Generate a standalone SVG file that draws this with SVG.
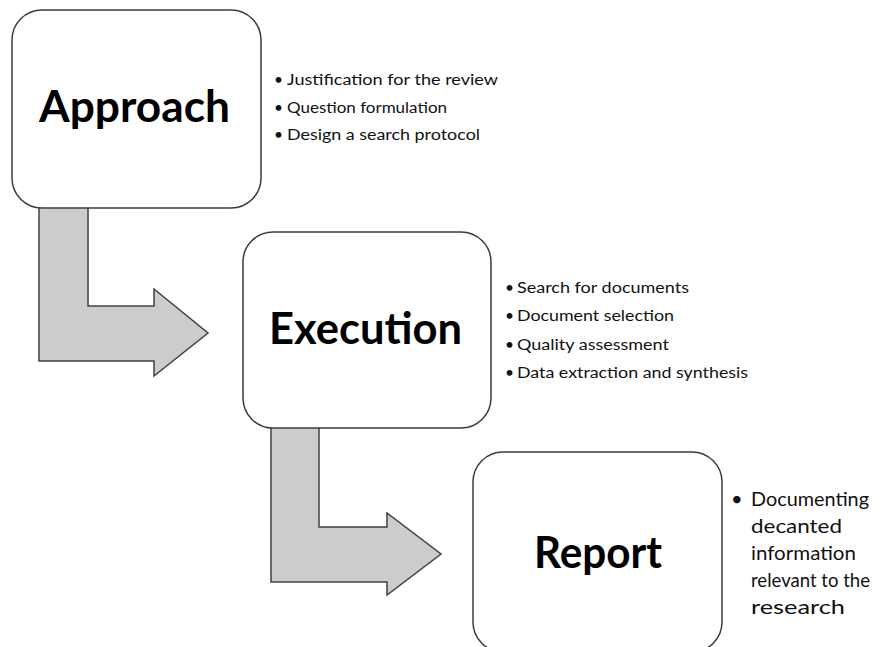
<svg xmlns="http://www.w3.org/2000/svg" width="886" height="647" viewBox="0 0 886 647">
<style>
.box{fill:#fff;stroke:#3c3c3c;stroke-width:1.5}
.arrow{fill:#cccccc;stroke:#404040;stroke-width:1.5;stroke-linejoin:miter}
.head{font-family:Lato,"Open Sans","Liberation Sans",sans-serif;font-weight:bold;font-size:43px;fill:#000}
.item{font-family:Lato,"Open Sans","Liberation Sans",sans-serif;font-size:15.5px;fill:#111}
.itemL{font-family:Lato,"Open Sans","Liberation Sans",sans-serif;font-size:20px;fill:#111}
</style>
<rect width="886" height="647" fill="#fff"/>
<g id="connectors">
<polygon class="arrow" points="39,200 88,200 88,306 154,306 154,289 208,333 154,376 154,361 39,361"/>
<polygon class="arrow" points="271,420 319,420 319,527 387,527 387,513 441,554 387,595 387,582 271,582"/>
</g>
<g id="approach">
<rect class="box" x="12" y="10" width="249" height="198" rx="30"/>
<text class="head" x="134.5" y="122" text-anchor="middle" textLength="191" lengthAdjust="spacingAndGlyphs">Approach</text>
<text class="item" x="274" y="85">•</text>
<text class="item" x="287" y="85" textLength="211" lengthAdjust="spacingAndGlyphs">Justification for the review</text>
<text class="item" x="274" y="113">•</text>
<text class="item" x="287" y="113" textLength="160" lengthAdjust="spacingAndGlyphs">Question formulation</text>
<text class="item" x="274" y="140">•</text>
<text class="item" x="287" y="140" textLength="193" lengthAdjust="spacingAndGlyphs">Design a search protocol</text>
</g>
<g id="execution">
<rect class="box" x="243" y="232" width="248" height="196" rx="30"/>
<text class="head" x="365.5" y="344" text-anchor="middle" textLength="193" lengthAdjust="spacingAndGlyphs">Execution</text>
<text class="item" x="505" y="293">•</text>
<text class="item" x="517" y="293" textLength="172" lengthAdjust="spacingAndGlyphs">Search for documents</text>
<text class="item" x="505" y="321">•</text>
<text class="item" x="517" y="321" textLength="157" lengthAdjust="spacingAndGlyphs">Document selection</text>
<text class="item" x="505" y="350">•</text>
<text class="item" x="517" y="350" textLength="152" lengthAdjust="spacingAndGlyphs">Quality assessment</text>
<text class="item" x="505" y="378">•</text>
<text class="item" x="517" y="378" textLength="231" lengthAdjust="spacingAndGlyphs">Data extraction and synthesis</text>
</g>
<g id="report">
<rect class="box" x="473" y="452" width="249" height="200" rx="30"/>
<text class="head" x="598" y="568" text-anchor="middle" textLength="128" lengthAdjust="spacingAndGlyphs">Report</text>
<text class="itemL" x="731" y="506">•</text>
<text class="itemL" x="751" y="506" textLength="118" lengthAdjust="spacingAndGlyphs">Documenting</text>
<text class="itemL" x="751" y="533" textLength="91" lengthAdjust="spacingAndGlyphs">decanted</text>
<text class="itemL" x="751" y="560" textLength="105" lengthAdjust="spacingAndGlyphs">information</text>
<text class="itemL" x="751" y="587" textLength="119" lengthAdjust="spacingAndGlyphs">relevant to the</text>
<text class="itemL" x="751" y="614" textLength="94" lengthAdjust="spacingAndGlyphs">research</text>
</g>
</svg>
